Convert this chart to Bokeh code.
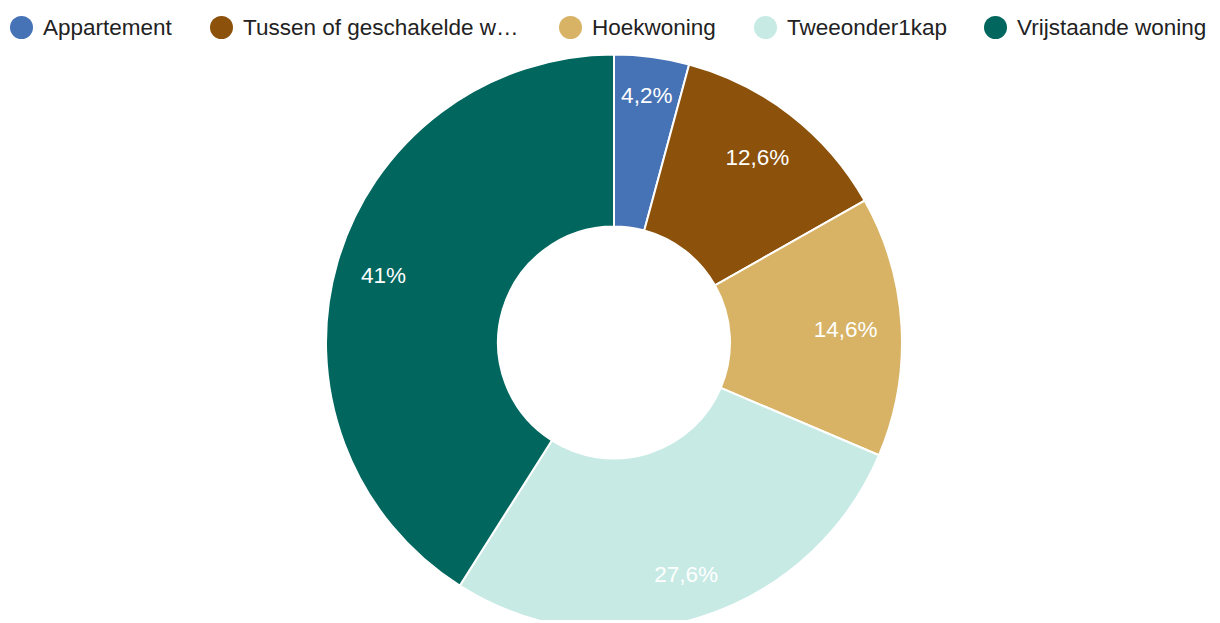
import math
from bokeh.plotting import figure
from bokeh.models import Range1d, ColumnDataSource
from bokeh.core.properties import value
from bokeh.embed import file_html
from bokeh.resources import INLINE

# ---- data ----
categories = ["Appartement", "Tussen of geschakelde woning", "Hoekwoning",
              "Tweeonder1kap", "Vrijstaande woning"]
legend_labels = ["Appartement", "Tussen of geschakelde w\u2026", "Hoekwoning",
                 "Tweeonder1kap", "Vrijstaande woning"]
percentages = [4.2, 12.6, 14.6, 27.6, 41.0]
pct_labels = ["4,2%", "12,6%", "14,6%", "27,6%", "41%"]
colors = ["#4673b5", "#8c510a", "#d8b365", "#c7eae5", "#01665e"]

# ---- layout (screen pixels) ----
W, H = 1212, 620
cx, cy = 613.5, -342.0
r_out, r_in = 288, 116
r_lab = [249, 234, 232, 243, 240]
legend_x = [21, 221, 570, 765, 995]
legend_y = -27

total = sum(percentages)
starts, ends, lx, ly = [], [], [], []
cum = 0.0
for i, v in enumerate(percentages):
    a0 = math.pi / 2 - 2 * math.pi * cum / total
    a1 = math.pi / 2 - 2 * math.pi * (cum + v) / total
    starts.append(a0)
    ends.append(a1)
    mid = (a0 + a1) / 2
    lx.append(cx + r_lab[i] * math.cos(mid))
    ly.append(cy + r_lab[i] * math.sin(mid))
    cum += v

src = ColumnDataSource(dict(cat=categories, start=starts, end=ends,
                            color=colors, lx=lx, ly=ly, lab=pct_labels))

p = figure(width=W, height=H, output_backend="svg", toolbar_location=None,
           x_range=Range1d(0, W), y_range=Range1d(-H, 0),
           min_border=0, min_border_left=0, min_border_right=0,
           min_border_top=0, min_border_bottom=0)
p.axis.visible = False
p.grid.visible = False
p.outline_line_color = None
p.background_fill_color = "white"
p.border_fill_color = "white"

p.annular_wedge(x=cx, y=cy, inner_radius=r_in, outer_radius=r_out,
                start_angle="start", end_angle="end", direction="clock",
                fill_color="color", line_color="white", line_width=2,
                source=src)

p.text(x="lx", y="ly", text="lab", source=src, text_color="white",
       text_font=value("Liberation Sans"), text_font_size="22.5px",
       text_align="center", text_baseline="middle")

lsrc = ColumnDataSource(dict(x=legend_x, y=[legend_y] * len(legend_x),
                             tx=[x + 21.5 for x in legend_x],
                             lab=legend_labels, color=colors))
p.scatter(x="x", y="y", size=23, marker="circle", fill_color="color",
          line_color=None, source=lsrc)
p.text(x="tx", y="y", text="lab", source=lsrc, text_color="#222222",
       text_font=value("Liberation Sans"), text_font_size="22.5px",
       text_align="left", text_baseline="middle")

open("out.html", "w").write(file_html(p, INLINE))
